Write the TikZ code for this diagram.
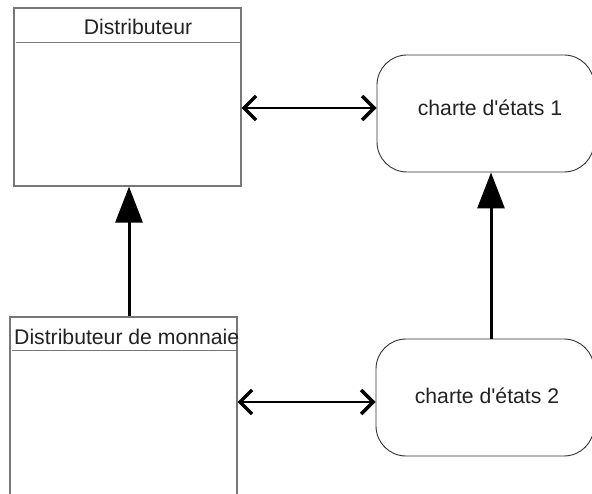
\documentclass[tikz,border=0pt]{standalone}
\usepackage{fontspec}
\setmainfont{Liberation Sans}
\usetikzlibrary{arrows.meta}
\definecolor{boxgray}{HTML}{777777}
\definecolor{stategray}{HTML}{333333}
\definecolor{txt}{HTML}{222222}
\begin{document}
\begin{tikzpicture}[x=1pt,y=-1pt,
  classbox/.style={draw=boxgray,line width=1.2pt,rectangle,inner sep=0pt,fill=white},
  statebox/.style={draw=stategray,line width=0.9pt,rectangle,rounded corners=30pt,inner sep=0pt,fill=white},
  lbl/.style={font=\fontsize{21.2}{25}\selectfont,text=txt,inner sep=0pt},
  assoc/.style={line width=1.5pt,{Straight Barb[length=12pt,width=24pt,line width=3.4pt]}-{Straight Barb[length=12pt,width=24pt,line width=3.4pt]}},
  inherit/.style={line width=3pt,-{Triangle[length=36pt,width=27pt]}}]
\clip (0,0) rectangle (592,494);
\fill[white] (0,0) rectangle (592,494);
% class boxes
\node[classbox,minimum width=227pt,minimum height=178pt] (d1) at (127.5,97) {};
\node[classbox,minimum width=227pt,minimum height=203pt] (d2) at (123.5,418.5) {};
\draw[boxgray,line width=1.2pt] ([xshift=3pt,yshift=-35pt]d1.north west) -- ([yshift=-35pt]d1.north east);
\draw[boxgray,line width=1.2pt] ([xshift=3pt,yshift=-34pt]d2.north west) -- ([yshift=-34pt]d2.north east);
\node[lbl] (t1) at (138,27) {Distributeur};
\node[lbl,anchor=west] (t2) at (14,337) {Distributeur de monnaie};
% state boxes
\node[statebox,minimum width=217pt,minimum height=117pt] (s1) at (485.5,113.5) {};
\node[statebox,minimum width=218pt,minimum height=117pt] (s2) at (485,397.5) {};
\node[lbl] (u1) at (490,108) {charte d\textquotesingle états 1};
\node[lbl] (u2) at (487,396) {charte d\textquotesingle états 2};
% connectors
\coordinate (a1l) at (d1.east |- 0,108);
\coordinate (a1r) at (s1.west |- 0,108);
\draw[assoc] (a1l) -- (a1r);
\coordinate (a2l) at (d2.east |- 0,402);
\coordinate (a2r) at (s2.west |- 0,402);
\draw[assoc] (a2l) -- (a2r);
\coordinate (v1b) at (d2.north -| 129,0);
\coordinate (v1t) at (d1.south -| 129,0);
\draw[inherit] (v1b) -- (v1t);
\coordinate (v2b) at (s2.north -| 491,0);
\coordinate (v2t) at (s1.south -| 491,0);
\draw[inherit] (v2b) -- (v2t);
\end{tikzpicture}
\end{document}
